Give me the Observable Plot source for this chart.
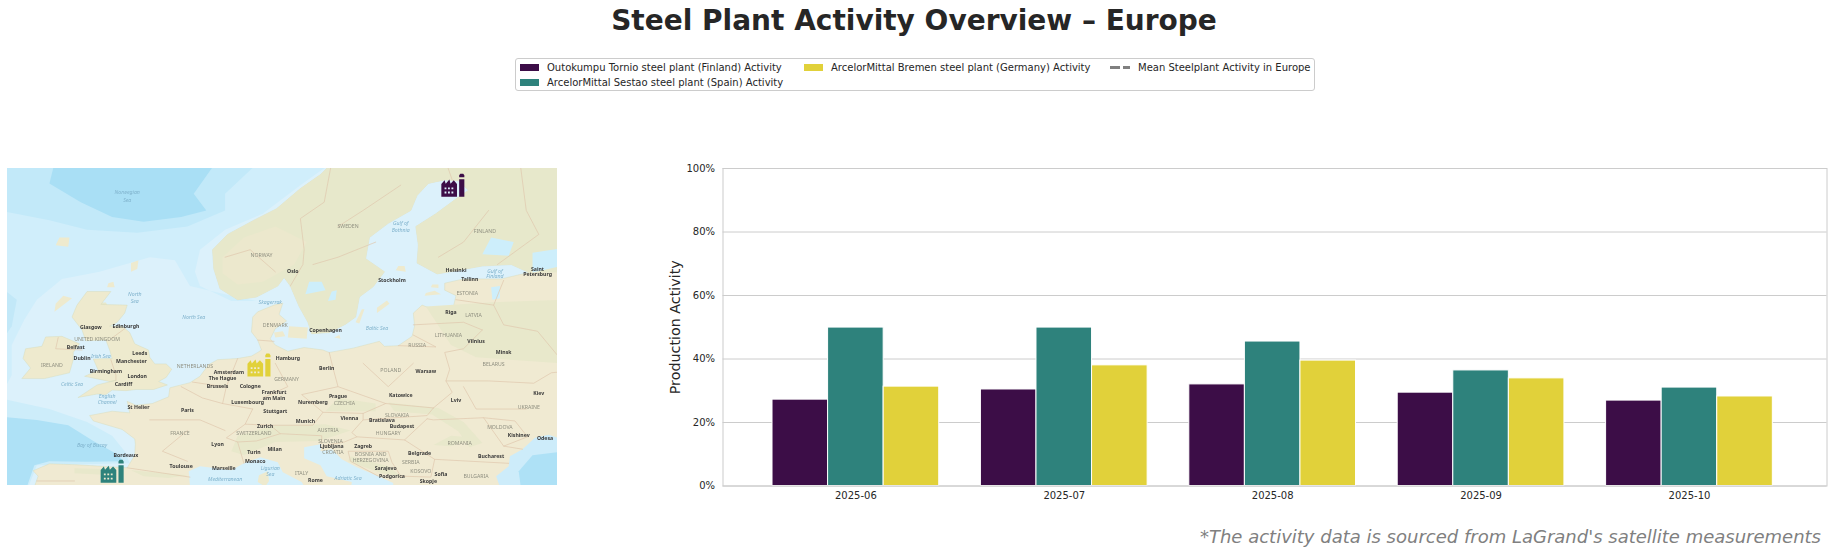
<!DOCTYPE html>
<html><head><meta charset="utf-8">
<script src="https://cdn.jsdelivr.net/npm/d3@7"></script>
<script src="https://cdn.jsdelivr.net/npm/@observablehq/plot@0.6"></script>
<style>
html,body{margin:0;padding:0;background:#fff;}
body{position:relative;width:1828px;height:554px;overflow:hidden;font-family:"DejaVu Sans",sans-serif;color:#262626;}
.abs{position:absolute;}
#title{left:0;width:1828px;top:3px;text-align:center;font-weight:700;font-size:28px;line-height:36px;}
#legend{left:515px;top:58px;width:800px;height:33px;border:1px solid #ccc;border-radius:3px;box-sizing:border-box;}
.lt{position:absolute;font-size:10px;line-height:14px;white-space:nowrap;}
.sw{position:absolute;width:19px;height:7px;}
#caption{right:7px;top:524px;font-style:italic;font-size:18px;line-height:26px;color:#808080;white-space:nowrap;}
#map svg{filter:blur(.35px);}
g[aria-label="countries"] text{letter-spacing:.8px;}
g[aria-label="seas"] text{letter-spacing:.4px;}
</style></head>
<body>
<div id="title" class="abs">Steel Plant Activity Overview – Europe</div>
<div id="legend" class="abs"></div>
<div id="map" class="abs" style="left:7px;top:168px"></div>
<div id="chart" class="abs" style="left:660px;top:150px"></div>
<div id="caption" class="abs">*The activity data is sourced from LaGrand's satellite measurements</div>
<script>
// ---- chart data ----
const months = ["2025-06","2025-07","2025-08","2025-09","2025-10"];
const plantNames = ["Outokumpu Tornio steel plant (Finland) Activity","ArcelorMittal Sestao steel plant (Spain) Activity","ArcelorMittal Bremen steel plant (Germany) Activity"];
const plantColors = ["#3c0d47","#2e827c","#e1d13a"];
const tornio = [27.2,30.4,32.0,29.4,26.9];
const sestao = [49.9,49.9,45.5,36.4,31.0];
const bremen = [31.3,38.0,39.5,33.9,28.2];
const meanLabel = "Mean Steelplant Activity in Europe";
const yTicks = [0,20,40,60,80,100];
// ---- plant locations (lon, lat) ----
const plantLon = [24.15,-3.0,8.7];
const plantLat = [65.5,43.0,52.86];
// ---- base map outlines, lon/lat ----
const southCoast = [[-12,41],[-9.3,41],[-8.9,42.5],[-9.3,43.05],[-8,43.75],[-5.8,43.65],[-3.8,43.5],[-1.8,43.35],[-1.2,44.6],[-1.15,45.7],[-1.2,46.2],[-2.2,47.1],[-4.5,47.9],[-4.8,48.4],[-3,48.8],[-1.6,48.65],[-1.8,49.7],[-1.1,49.35],[0.2,49.5],[1.5,50.1],[1.6,50.9],[3.2,51.35],[4,51.9],[4.7,52.9],[5.4,53.3],[7,53.4],[8.1,53.6],[8.6,53.9],[8.9,54.1],[8.6,54.9],[8.1,55.55],[8.2,56.7],[8.6,57.1],[9.9,57.6],[10.6,57.75],[10.3,56.9],[10.9,56.4],[10,55.8],[9.6,55],[10,54.5],[11,54],[12.3,54.3],[13.8,54.1],[14.3,53.9],[16.2,54.25],[18.3,54.8],[18.7,54.4],[19.8,54.45],[20.9,55.2],[21.1,56],[21,57],[21.7,57.6],[23.2,57.05],[24.1,57.1],[24.4,58.3],[23.5,58.7],[23.5,59.2],[25,59.5],[28,59.5],[30.2,59.95]];
const nordicCoast = [[30.2,59.95],[28.8,60.5],[26.5,60.4],[24.9,60.15],[22.9,59.85],[21.3,60.6],[21.4,61.8],[21.2,63],[22.8,63.8],[24.6,64.8],[25.4,65.2],[24.6,65.75],[23.5,65.8],[22.2,65.6],[21.3,64.9],[20.8,64],[19,63.2],[17.5,62.3],[17.2,60.9],[18.7,60],[17.8,58.95],[16.7,58.2],[16.4,56.7],[15.6,56.15],[14.3,55.5],[12.9,55.4],[12.6,56.3],[11.9,57.5],[11.2,59],[10.7,59.6],[10.2,59],[8.5,58.2],[7,58],[5.6,58.8],[5.1,60.2],[5,61.5],[6.2,62.5],[8.3,63.4],[10.1,64.1],[12,65.3],[13.6,66.1],[14.6,66.8]];
const nordicBack = [[40,66.8],[40,59.95]];
const landBack = [[40,66.8],[40,41]];
const britain = [[-5.7,50.05],[-4.2,50.35],[-3.5,50.3],[-3,50.7],[-1.9,50.65],[-1.1,50.75],[0.3,50.75],[1.4,51.15],[0.7,51.45],[1.3,51.8],[1.75,52.5],[1.3,52.95],[0.4,52.95],[0,53.5],[-0.1,54.1],[-1.2,54.6],[-1.6,55.5],[-2.2,56],[-3.2,56],[-2.6,56.3],[-2,57],[-1.8,57.6],[-3.9,57.65],[-3.1,58.6],[-5,58.6],[-5.8,57.6],[-6.2,56.7],[-5.4,55.7],[-5.1,54.85],[-3.5,54.9],[-3.2,54.1],[-3,53.4],[-4.5,53.35],[-4.1,52.4],[-5.2,51.9],[-3.2,51.45],[-2.7,51.55],[-4.2,51.15],[-5.7,50.05]];
const ireland = [[-6.1,53.3],[-6.4,52.2],[-8.4,51.7],[-10.2,51.7],[-9.5,52.6],[-10.1,53.4],[-9.9,54.2],[-8.6,54.4],[-8.3,55.15],[-7,55.2],[-5.6,54.6],[-6.1,53.9],[-6.1,53.3]];
const islands = [
 [[-1.5,60],[-1,60.2],[-0.9,60.8],[-1.5,60.6]],
 [[-3.4,58.9],[-2.8,58.9],[-2.9,59.3],[-3.3,59.2]],
 [[-7.6,57.1],[-6.2,58.1],[-6.9,58.3],[-7.5,57.7]],
 [[-7.5,61.8],[-6.5,61.7],[-6.4,62.3],[-7.2,62.3]],
 [[10,55.1],[10.8,55.2],[10.6,55.6],[9.9,55.5]],
 [[11,55.1],[12.5,55],[12.6,55.9],[11.1,56]],
 [[14.7,55.1],[15.2,55],[15.1,55.3]],
 [[18.1,57],[19.1,57.7],[18.9,57.95],[18.1,57.4]],
 [[16.4,56.3],[16.7,56.2],[17.1,57.3],[16.9,57.3]],
 [[21.9,58.3],[23.2,58.4],[22.7,58.65],[22,58.5]],
 [[22.4,58.9],[23,58.85],[23,59.1],[22.5,59.1]],
 [[19.6,60.1],[20.4,60],[20.3,60.4],[19.8,60.4]]
];
const corsica = [[8.6,41.9],[9.2,41.4],[9.5,42],[9.4,43],[8.7,42.6]];
const mediterranean = [[3.2,41.5],[3.1,43],[4,43.5],[5.3,43.3],[6.5,43.1],[7.5,43.8],[8.8,44.4],[10.2,43.9],[10.6,42.9],[12.1,41.9],[12.5,41],[3,41]];
const adriatic = [[12.3,45.4],[13.7,45.7],[13.6,45],[14.5,45.2],[15.3,44.2],[16.5,43.4],[18.2,42.5],[19.4,41.8],[19.4,41],[16,41],[16.1,41.9],[14.1,42.5],[13.6,43.6],[12.3,44.3]];
const blackSea = [[28,41],[27.6,42.5],[28.6,43.5],[28.7,44.5],[29.7,45.2],[30.7,46.3],[31.8,46.6],[33,46.1],[33,41]];
const blackSeaDeep = [[29.6,41],[29.4,43],[30.5,44.6],[33,45],[33,41]];
const lakes = [
 [[12.4,58.4],[14,58.7],[13.7,59.3],[12.7,59.3]],
 [[14.2,57.9],[14.8,58],[14.9,58.7],[14.5,58.6]],
 [[30.5,59.95],[32.8,60.4],[32.8,61.6],[30.5,61.3]],
 [[27.3,58],[27.9,58.1],[27.9,59],[27.2,58.9]],
 [[26.5,61.2],[28.6,61.1],[29,62],[27.2,62.3]]
];
const midWater = [[-12,67],[15,67],[12,65.5],[9,63.8],[6,62.8],[4,61.5],[3.6,60],[4,59],[6.5,57.9],[8.5,57.9],[6,58.4],[3.2,59],[2,60.8],[0,61],[-2,60.5],[-4,60],[-7,59.5],[-9,58],[-10,56.5],[-11,54.5],[-11,52],[-11.5,51],[-12,50]];
const upperDeep = [[-12,67],[9,67],[6,65],[6,64],[3,63],[-1,62.6],[-5,62.8],[-8,63.4],[-12,64]];
const deepNorth = [[-7.5,67],[5.5,67],[3.5,65],[4.5,64],[2.5,63.6],[-0.5,63.3],[-3,63.6],[-5.5,64.5],[-8,65.6]];
const shelfSouth = [[-12,50],[-8,49],[-5,47.8],[-3,46.5],[-2,45],[-1.6,43.8],[-9,43.6],[-9.8,41],[-12,41]];
const deepSouth = [[-12,48.3],[-9,48],[-6.5,47.5],[-4.5,46],[-2.6,44.7],[-2.1,44],[-5,43.95],[-8,44],[-9.2,43.6],[-9.9,41],[-12,41]];
const westDeep = [[-12,59],[-10.6,58],[-11,56],[-12,54.5]];
const mountains = [
 [[6.5,45],[7,46.5],[10,47.5],[14,47.6],[16,47],[13.5,46],[10,45.9],[7.5,44.6]],
 [[19,49.6],[23,49.1],[25,47.8],[26.5,45.8],[25.5,45.4],[24.6,46.9],[22.5,48.5],[19.5,48.8]],
 [[-1.5,43.1],[3,42.6],[1.5,42.3],[-0.5,42.5]],
 [[-6,43.3],[-3,43.2],[-3,42.6],[-6,42.8]],
 [[24,46.5],[26,46.3],[24,45.5],[22.6,45.6]],
 [[15,50],[18,49.5],[18,48.8],[14,48.8]],
 [[16,44.5],[19,43.5],[20,42.5],[18.5,42.8],[15.8,44]],
 [[-5,57.8],[-3.5,57.8],[-3,57],[-4.8,56.6]],
 [[22,57.5],[27,57.8],[32.8,58],[32.8,53],[26,53.5],[24,54.5]]
];
const scandes = [[5.8,61],[7.5,62.3],[10,63],[12.5,62],[11.5,60.5],[9,59.3],[7,59.1],[5.8,59.9]];
const borders = [
 [[11.2,59],[12.2,60.5],[12.3,61.5],[12,63.5],[13.9,64.5],[14.5,66.8]],
 [[24.1,65.8],[23.6,66.8]],
 [[27.7,60.5],[31,62.5],[30,64],[29.5,66.8]],
 [[24.4,58],[27.4,57.6]],
 [[21,56.1],[25,56.3],[26.5,55.7]],
 [[28.2,59.4],[27.4,57.6],[28.2,56.1],[30.9,55.6],[32.7,53.4]],
 [[23.6,51.5],[27,51.5],[30.6,51.3],[32,52.2],[33,52.3]],
 [[26.5,55.7],[25,54.2],[23.5,53.9],[23.9,52.5],[23.6,51.5],[24.1,50.5],[22.6,49.1]],
 [[19.8,54.45],[22.8,54.35],[21,55.3]],
 [[14.3,53.9],[14.6,52.6],[15,51],[12.1,50.3],[13.8,48.7],[13,47.5],[9.6,47.5]],
 [[15,51],[18.8,49.5],[22.6,49.1]],
 [[8.2,49],[7.6,47.6],[9.6,47.5],[10.4,46.7],[8.5,46],[7,45.9],[6.1,46.3],[7.6,47.6]],
 [[7,45.9],[7.5,43.8]],
 [[-1.8,43.35],[3.2,42.4]],
 [[2.5,51],[4.2,50],[5.8,49.5],[8.2,49]],
 [[7,53.4],[6.1,51],[5.8,49.5]],
 [[3.4,51.4],[5.9,51]],
 [[8.6,54.9],[9.9,54.8]],
 [[10.4,46.7],[13.7,46.5],[13.7,45.7]],
 [[13.8,48.7],[17,48.6],[18.8,49.5]],
 [[17,48],[22.1,48.4],[22.6,49.1]],
 [[22.1,48.1],[20.3,46.1],[22.7,44.2],[28.6,43.8]],
 [[17,48.6],[17,48],[16.1,46.8],[16.5,46.4],[20.3,46.1]],
 [[13.7,45.5],[15.5,45.9],[16.5,46.4]],
 [[22.1,48.1],[22.6,48],[26.6,48.2],[28.2,45.5],[29.7,45.2]],
 [[26.6,48.2],[29.1,47.9],[30.1,46.4],[28.2,45.5]],
 [[22.7,44.2],[22.4,42.4],[20,42.5],[19.3,43.9],[19,45],[15.8,45],[16,44],[18.2,42.5]],
 [[-6,42],[-9,42]],
 [[-5.4,54.1],[-7.5,54.2],[-7.3,55.1]],
 [[-3.1,53.3],[-2.7,52],[-2.7,51.55]],
 [[-3.1,55],[-2,55.8]],
 [[18,62],[15,61],[13,60.5]],[[15,63],[17,64],[20,65.5]],[[10,60],[8,61.5],[6,61]],[[27,64],[25,62],[23,61]],
 [[3,47],[1,45],[3,44]],[[0,48],[4,48],[6,47]],[[10,53],[11,51],[9,50]],[[17,53],[19,51],[21,53]],[[25,51],[26,49],[30,49]]
];
const countryLabels = [["SWEDEN",15.8,63],["NORWAY",8.9,61.1],["FINLAND",26.7,62.7],["ESTONIA",25.3,58.5],["LATVIA",25.8,56.8],["LITHUANIA",23.8,55.3],["RUSSIA",21.3,54.5],["BELARUS",27.4,52.9],["DENMARK",10,56.1],["UNITED KINGDOM",-4.2,54.95],["IRELAND",-7.8,52.8],["NETHERLANDS",3.6,52.75],["GERMANY",10.9,51.6],["POLAND",19.2,52.4],["CZECHIA",15.5,49.55],["SLOVAKIA",19.7,48.45],["AUSTRIA",14.2,47],["SLOVENIA",14.4,45.95],["HUNGARY",19,46.7],["ROMANIA",24.7,45.8],["UKRAINE",30.2,49.2],["FRANCE",2.4,46.7],["SWITZERLAND",8.3,46.7],["CROATIA",14.6,44.9],["BOSNIA AND",17.6,44.65],["HERZEGOVINA",17.6,44.05],["SERBIA",20.8,43.85],["KOSOVO",21.6,42.95],["BULGARIA",26,42.5],["MOLDOVA",27.9,47.3],["ITALY",12.1,42.8]];
const cityLabels = [["Oslo",11.4,60],["Stockholm",19.3,59.4],["Helsinki",24.4,60.1],["Tallinn",25.5,59.5],["Riga",24,57.05],["Vilnius",26,54.8],["Minsk",28.2,53.9],["Copenhagen",14,55.7],["Hamburg",11,53.4],["Berlin",14.1,52.6],["Warsaw",22,52.3],["Amsterdam",6.3,52.25],["The Hague",5.8,51.75],["Brussels",5.4,51],["Cologne",8,51],["Frankfurt",9.9,50.5],["am Main",9.9,50],["Luxembourg",7.8,49.65],["Nuremberg",13,49.6],["Prague",15,50.15],["Katowice",20,50.2],["Lviv",24.4,49.8],["Kiev",31,50.4],["Stuttgart",10,48.8],["Munich",12.4,47.9],["Vienna",15.9,48.1],["Bratislava",18.5,48],["Budapest",20.1,47.4],["Zurich",9.2,47.4],["Milan",9.95,45.2],["Turin",8.3,44.9],["Lyon",5.4,45.7],["Paris",3,48.9],["Bordeaux",-1.9,44.6],["Toulouse",2.5,43.5],["Marseille",5.9,43.3],["Monaco",8.4,43.95],["Ljubljana",14.5,45.45],["Zagreb",17,45.5],["Belgrade",21.5,44.8],["Sarajevo",18.8,43.3],["Podgorica",19.3,42.5],["Sofia",23.2,42.7],["Skopje",22.2,42],["Bucharest",27.2,44.5],["Kishinev",29.4,46.5],["Odesa",31.5,46.3],["Rome",13.2,42.1],["Saint",30.9,60.2],["Petersburg",30.9,59.8],["Edinburgh",-1.9,56],["Glasgow",-4.7,55.9],["Belfast",-5.9,54.35],["Dublin",-5.4,53.45],["Leeds",-0.8,53.85],["Manchester",-1.46,53.15],["Birmingham",-3.5,52.3],["London",-1,51.9],["Cardiff",-2.1,51.2],["St Helier",-0.9,49.2]];
const seaLabels = [["Norwegian",-1.8,65.1],["Sea",-1.8,64.6],["North",-1.2,58.4],["Sea",-1.2,57.9],["North Sea",3.5,56.7],["Irish Sea",-3.9,53.6],["Celtic Sea",-6.2,51.2],["English",-3.4,50.15],["Channel",-3.4,49.6],["Skagerrak",9.6,57.8],["Gulf of",20,63.2],["Bothnia",20,62.75],["Baltic Sea",18.1,55.8],["Bay of Biscay",-4.6,45.6],["Ligurian",9.6,43.25],["Sea",9.6,42.65],["Adriatic Sea",15.8,42.3],["Mediterranean",6,42.2],["Gulf of",27.5,60.05],["Finland",27.5,59.65]];

// ---- helpers ----
const merc = lat => Math.asinh(Math.tan(lat * Math.PI / 180));
const poly = (pts, fill, extra = {}) => Plot.line(pts, {x: d => d[0], y: d => merc(d[1]), fill, stroke: "none", clip: true, ...extra});
const factory = {
  draw(c, size) {
    const r = Math.sqrt(size / Math.PI), X = v => v * r, Y = v => v * r;
    c.moveTo(X(-1), Y(1)); c.lineTo(X(-1), Y(-.1)); c.lineTo(X(-.72), Y(-.42)); c.lineTo(X(-.62), Y(-.12));
    c.lineTo(X(-.3), Y(-.48)); c.lineTo(X(-.2), Y(-.12)); c.lineTo(X(.08), Y(-.42)); c.lineTo(X(.36), Y(-.1)); c.lineTo(X(.36), Y(1)); c.closePath();
    for (const wy of [.2, .56]) for (const wx of [-.72, -.42, -.12]) {
      c.moveTo(X(wx), Y(wy)); c.lineTo(X(wx), Y(wy + .16)); c.lineTo(X(wx + .16), Y(wy + .16)); c.lineTo(X(wx + .16), Y(wy)); c.closePath();
    }
    c.moveTo(X(.55), Y(1)); c.lineTo(X(1), Y(1)); c.lineTo(X(1), Y(-.52)); c.lineTo(X(.55), Y(-.52)); c.closePath();
    c.moveTo(X(.55), Y(-.68)); c.lineTo(X(1), Y(-.68)); c.lineTo(X(1), Y(-.85)); c.lineTo(X(.9), Y(-1)); c.lineTo(X(.65), Y(-1)); c.lineTo(X(.55), Y(-.85)); c.closePath();
  }
};
const plantRows = plantNames.map((name, i) => ({name, lon: plantLon[i], lat: plantLat[i]}));
const labelMark = (rows, opts) => Plot.text(rows, {x: d => d[1], y: d => merc(d[2]), text: d => d[0], clip: true, ...opts});
const coastStyle = {stroke: "#d5d8b6", strokeWidth: .4};

// ---- map ----
document.getElementById("map").append(Plot.plot({
  width: 550, height: 317, margin: 0, axis: null,
  x: {domain: [-11.34, 32.49], axis: null},
  y: {domain: [0.7982, 1.5677], axis: null},
  color: {domain: plantNames, range: plantColors},
  style: {background: "#dcf1fb"},
  marks: [
    poly(midWater, "#d0eefb"), poly(upperDeep, "#c2e9f9"), poly(westDeep, "#c2e8f8"), poly(deepNorth, "#a9dff5"),
    poly(shelfSouth, "#cdedfa"), poly(deepSouth, "#aee1f6"),
    poly([...southCoast, ...nordicCoast, ...landBack], "#f0ead2", coastStyle),
    poly([...nordicCoast, ...nordicBack], "#e7e8cb"),
    poly(scandes, "#ece8cd"),
    ...mountains.map(m => poly(m, "#e8e8cb")),
    poly(britain, "#eeeace", coastStyle), poly(ireland, "#eeeace", coastStyle),
    ...islands.map(m => poly(m, "#eeeace")),
    poly(mediterranean, "#d6f0fb"), poly(adriatic, "#d6f0fb"), poly(blackSea, "#cdecfa"), poly(blackSeaDeep, "#aee1f6"),
    poly(corsica, "#eeeace"),
    ...lakes.map(m => poly(m, "#cdeefb")),
    ...borders.map(b => Plot.line(b, {x: d => d[0], y: d => merc(d[1]), stroke: "#e0c7ae", strokeWidth: .7, clip: true})),
    labelMark(seaLabels, {fontSize: 5.2, fill: "#7fb2cc", fontStyle: "italic", fontFamily: "Noto Sans", ariaLabel: "seas"}),
    labelMark(countryLabels, {fontSize: 5.2, fill: "#8f8f80", fontFamily: "Noto Sans", ariaLabel: "countries"}),
    labelMark(cityLabels, {fontSize: 5.2, fontWeight: 700, fill: "#3a3a3a", fontFamily: "Noto Sans", ariaLabel: "cities"}),
    Plot.dot(plantRows, {x: "lon", y: d => merc(d.lat), fill: "name", symbol: () => factory, r: 11.5, stroke: "none"})
  ]
}));

// ---- bars ----
const barWidth = 0.8 / 3;
const rows = [tornio, sestao, bremen].flatMap((vals, s) => vals.map((value, i) => ({
  plant: plantNames[s], value, x1: i + (s - 1.5) * barWidth, x2: i + (s - 0.5) * barWidth
})));
document.getElementById("chart").append(Plot.plot({
  width: 1168, height: 404,
  marginLeft: 62.5, marginRight: 1.5, marginTop: 18, marginBottom: 68.5,
  style: {fontFamily: "DejaVu Sans", color: "#262626", background: "transparent"},
  x: {domain: [-0.6376, 4.66], axis: null},
  y: {domain: [0, 100], axis: null},
  color: {domain: plantNames, range: plantColors},
  marks: [
    Plot.ruleY(yTicks, {stroke: "#cccccc", strokeWidth: 1, strokeOpacity: 1}),
    Plot.rectY(rows, {x1: "x1", x2: "x2", y: "value", fill: "plant", stroke: "white", strokeWidth: 1}),
    Plot.frame({stroke: "#cccccc", strokeWidth: 1}),
    Plot.axisY({ticks: yTicks, tickSize: 0, tickPadding: 8, tickFormat: d => d + "%", label: null, fontSize: 10, marginLeft: 62.5}),
    Plot.axisX({ticks: months.map((m, i) => i), tickSize: 0, tickPadding: 6, tickFormat: i => months[i], label: null, fontSize: 10}),
    Plot.text(["Production Activity"], {frameAnchor: "left", textAnchor: "middle", rotate: -90, dx: -48, fontSize: 14.3, fill: "#262626"})
  ]
}));

// ---- legend ----
const lg = document.getElementById("legend");
const slots = [[4, 5, 31], [4, 20, 31], [288, 5, 315]];
plantNames.forEach((name, i) => {
  const sw = document.createElement("div"); sw.className = "sw";
  sw.style.cssText = `left:${slots[i][0]}px;top:${slots[i][1]}px;background:${plantColors[i]}`;
  const t = document.createElement("div"); t.className = "lt"; t.textContent = name;
  t.style.cssText = `left:${slots[i][2]}px;top:${slots[i][1] - 3}px`;
  lg.append(sw, t);
});
const dash = document.createElement("div");
dash.style.cssText = "position:absolute;left:594px;top:7px;width:20px;height:2.5px;background:repeating-linear-gradient(90deg,#808080 0 10px,transparent 10px 13px)";
const mt = document.createElement("div"); mt.className = "lt"; mt.textContent = meanLabel;
mt.style.cssText = "left:622px;top:2px";
lg.append(dash, mt);
</script>
</body></html>
